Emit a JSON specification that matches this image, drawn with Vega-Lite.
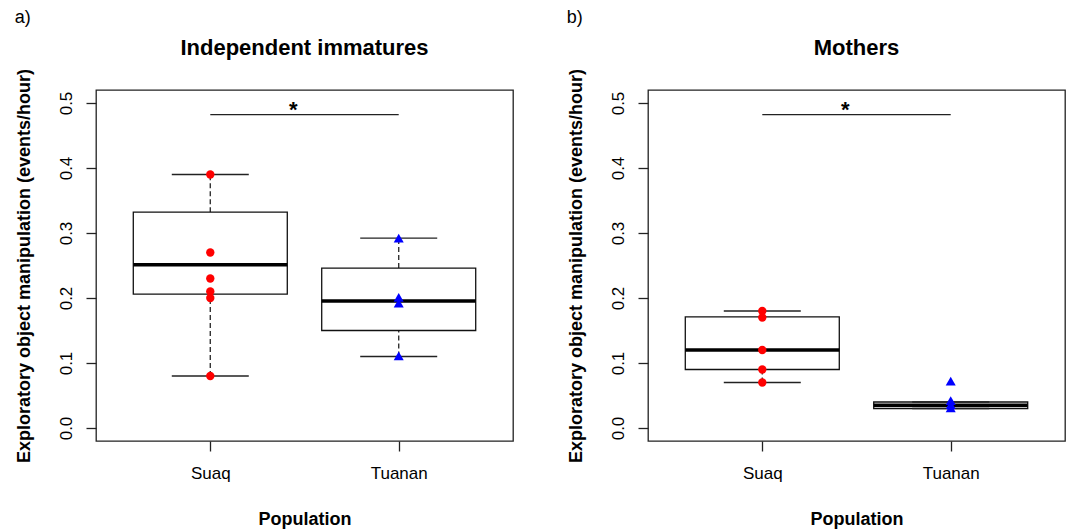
{
  "$schema": "https://vega.github.io/schema/vega-lite/v6.json",
  "background": "white",
  "padding": {"left": 14, "top": 8, "right": 0, "bottom": 0},
  "datasets": {
    "boxes": [
      {"panel": "a", "pop": "Suaq", "x": 1, "lo": 0.08, "q1": 0.206, "med": 0.251, "q3": 0.332, "hi": 0.39},
      {"panel": "a", "pop": "Tuanan", "x": 2, "lo": 0.11, "q1": 0.15, "med": 0.1955, "q3": 0.246, "hi": 0.292},
      {"panel": "b", "pop": "Suaq", "x": 1, "lo": 0.07, "q1": 0.09, "med": 0.12, "q3": 0.171, "hi": 0.18},
      {"panel": "b", "pop": "Tuanan", "x": 2, "lo": 0.03, "q1": 0.03, "med": 0.035, "q3": 0.04, "hi": 0.04}
    ],
    "pts": [
      {"panel": "a", "pop": "Suaq", "x": 1, "v": 0.39},
      {"panel": "a", "pop": "Suaq", "x": 1, "v": 0.27},
      {"panel": "a", "pop": "Suaq", "x": 1, "v": 0.23},
      {"panel": "a", "pop": "Suaq", "x": 1, "v": 0.21},
      {"panel": "a", "pop": "Suaq", "x": 1, "v": 0.20},
      {"panel": "a", "pop": "Suaq", "x": 1, "v": 0.08},
      {"panel": "a", "pop": "Tuanan", "x": 2, "v": 0.292},
      {"panel": "a", "pop": "Tuanan", "x": 2, "v": 0.201},
      {"panel": "a", "pop": "Tuanan", "x": 2, "v": 0.192},
      {"panel": "a", "pop": "Tuanan", "x": 2, "v": 0.111},
      {"panel": "b", "pop": "Suaq", "x": 1, "v": 0.18},
      {"panel": "b", "pop": "Suaq", "x": 1, "v": 0.17},
      {"panel": "b", "pop": "Suaq", "x": 1, "v": 0.12},
      {"panel": "b", "pop": "Suaq", "x": 1, "v": 0.09},
      {"panel": "b", "pop": "Suaq", "x": 1, "v": 0.07},
      {"panel": "b", "pop": "Tuanan", "x": 2, "v": 0.072},
      {"panel": "b", "pop": "Tuanan", "x": 2, "v": 0.042},
      {"panel": "b", "pop": "Tuanan", "x": 2, "v": 0.036},
      {"panel": "b", "pop": "Tuanan", "x": 2, "v": 0.031}
    ],
    "sig": [
      {"panel": "a", "x": 1, "x2": 2, "y": 0.482, "xs": 1.44, "ys": 0.49, "star": "*"},
      {"panel": "b", "x": 1, "x2": 2, "y": 0.482, "xs": 1.44, "ys": 0.49, "star": "*"}
    ]
  },
  "spacing": 52,
  "hconcat": [
    {
      "title": {"text": "a)", "anchor": "start", "fontSize": 18, "fontWeight": "normal", "offset": 10},
      "vconcat": [
        {
          "title": {"text": "Independent immatures", "fontSize": 22, "fontWeight": "bold", "anchor": "middle", "frame": "group", "offset": 8},
          "width": 417,
          "height": 351,
          "encoding": {
            "x": {"field": "x", "type": "quantitative", "title": "Population",
              "scale": {"domain": [0.42, 2.58], "nice": false, "zero": false},
              "axis": {"values": [1, 2], "labelExpr": "datum.value == 1 ? 'Suaq' : 'Tuanan'", "labelPadding": 14, "titlePadding": 29, "labelFlush": false}}
          },
          "layer": [
            {"data": {"name": "boxes"}, "transform": [{"filter": "datum.panel == 'a'"}],
              "mark": {"type": "rule", "strokeDash": [5, 3], "color": "#333", "strokeWidth": 1.4},
              "encoding": {
                "y": {"field": "q3", "type": "quantitative", "title": "Exploratory object manipulation (events/hour)",
                  "scale": {"domain": [-0.02, 0.52], "nice": false, "zero": false},
                  "axis": {"values": [0, 0.1, 0.2, 0.3, 0.4, 0.5], "format": ".1f", "labelAngle": -90, "labelAlign": "center", "labelBaseline": "alphabetic", "labelPadding": 15, "titlePadding": 23.5}},
                "y2": {"field": "hi"}}},
            {"data": {"name": "boxes"}, "transform": [{"filter": "datum.panel == 'a'"}],
              "mark": {"type": "rule", "strokeDash": [5, 3], "color": "#333", "strokeWidth": 1.4},
              "encoding": {"y": {"field": "lo", "type": "quantitative", "title": "Exploratory object manipulation (events/hour)"}, "y2": {"field": "q1"}}},
            {"data": {"name": "boxes"}, "transform": [{"filter": "datum.panel == 'a'"}],
              "mark": {"type": "bar", "size": 154, "fill": "white", "stroke": "#111", "strokeWidth": 1.3},
              "encoding": {"y": {"field": "q1", "type": "quantitative", "title": "Exploratory object manipulation (events/hour)"}, "y2": {"field": "q3"}}},
            {"data": {"name": "boxes"}, "transform": [{"filter": "datum.panel == 'a'"}],
              "mark": {"type": "tick", "orient": "horizontal", "size": 154, "thickness": 3.5, "color": "black", "opacity": 1},
              "encoding": {"y": {"field": "med", "type": "quantitative", "title": "Exploratory object manipulation (events/hour)"}}},
            {"data": {"name": "boxes"}, "transform": [{"filter": "datum.panel == 'a'"}],
              "mark": {"type": "tick", "orient": "horizontal", "size": 77, "thickness": 1.3, "color": "#222", "opacity": 1},
              "encoding": {"y": {"field": "hi", "type": "quantitative", "title": "Exploratory object manipulation (events/hour)"}}},
            {"data": {"name": "boxes"}, "transform": [{"filter": "datum.panel == 'a'"}],
              "mark": {"type": "tick", "orient": "horizontal", "size": 77, "thickness": 1.3, "color": "#222", "opacity": 1},
              "encoding": {"y": {"field": "lo", "type": "quantitative", "title": "Exploratory object manipulation (events/hour)"}}},
            {"data": {"name": "pts"}, "transform": [{"filter": "datum.panel == 'a'"}],
              "mark": {"type": "point", "filled": true, "opacity": 1},
              "encoding": {
                "y": {"field": "v", "type": "quantitative", "title": "Exploratory object manipulation (events/hour)"},
                "shape": {"field": "pop", "type": "nominal", "scale": {"domain": ["Suaq", "Tuanan"], "range": ["circle", "triangle-up"]}, "legend": null},
                "size": {"field": "pop", "type": "nominal", "scale": {"domain": ["Suaq", "Tuanan"], "range": [70, 100]}, "legend": null},
                "color": {"field": "pop", "type": "nominal", "scale": {"domain": ["Suaq", "Tuanan"], "range": ["#ff0000", "#0000ff"]}, "legend": null}}},
            {"data": {"name": "sig"}, "transform": [{"filter": "datum.panel == 'a'"}],
              "mark": {"type": "rule", "color": "#222", "strokeWidth": 1.3},
              "encoding": {"x2": {"field": "x2"}, "y": {"field": "y", "type": "quantitative", "title": "Exploratory object manipulation (events/hour)"}}},
            {"data": {"name": "sig"}, "transform": [{"filter": "datum.panel == 'a'"}],
              "mark": {"type": "text", "fontSize": 22, "fontWeight": "bold", "baseline": "middle", "align": "center", "color": "black"},
              "encoding": {"x": {"field": "xs", "type": "quantitative", "title": "Population"}, "y": {"field": "ys", "type": "quantitative", "title": "Exploratory object manipulation (events/hour)"}, "text": {"field": "star"}}}
          ]
        }
      ]
    },
    {
      "title": {"text": "b)", "anchor": "start", "fontSize": 18, "fontWeight": "normal", "offset": 10},
      "vconcat": [
        {
          "title": {"text": "Mothers", "fontSize": 22, "fontWeight": "bold", "anchor": "middle", "frame": "group", "offset": 8},
          "width": 417,
          "height": 351,
          "encoding": {
            "x": {"field": "x", "type": "quantitative", "title": "Population",
              "scale": {"domain": [0.42, 2.58], "nice": false, "zero": false},
              "axis": {"values": [1, 2], "labelExpr": "datum.value == 1 ? 'Suaq' : 'Tuanan'", "labelPadding": 14, "titlePadding": 29, "labelFlush": false}}
          },
          "layer": [
            {"data": {"name": "boxes"}, "transform": [{"filter": "datum.panel == 'b'"}],
              "mark": {"type": "rule", "strokeDash": [5, 3], "color": "#333", "strokeWidth": 1.4},
              "encoding": {
                "y": {"field": "q3", "type": "quantitative", "title": "Exploratory object manipulation (events/hour)",
                  "scale": {"domain": [-0.02, 0.52], "nice": false, "zero": false},
                  "axis": {"values": [0, 0.1, 0.2, 0.3, 0.4, 0.5], "format": ".1f", "labelAngle": -90, "labelAlign": "center", "labelBaseline": "alphabetic", "labelPadding": 15, "titlePadding": 23.5}},
                "y2": {"field": "hi"}}},
            {"data": {"name": "boxes"}, "transform": [{"filter": "datum.panel == 'b'"}],
              "mark": {"type": "rule", "strokeDash": [5, 3], "color": "#333", "strokeWidth": 1.4},
              "encoding": {"y": {"field": "lo", "type": "quantitative", "title": "Exploratory object manipulation (events/hour)"}, "y2": {"field": "q1"}}},
            {"data": {"name": "boxes"}, "transform": [{"filter": "datum.panel == 'b'"}],
              "mark": {"type": "bar", "size": 154, "fill": "white", "stroke": "#111", "strokeWidth": 1.3},
              "encoding": {"y": {"field": "q1", "type": "quantitative", "title": "Exploratory object manipulation (events/hour)"}, "y2": {"field": "q3"}}},
            {"data": {"name": "boxes"}, "transform": [{"filter": "datum.panel == 'b'"}],
              "mark": {"type": "tick", "orient": "horizontal", "size": 154, "thickness": 3.5, "color": "black", "opacity": 1},
              "encoding": {"y": {"field": "med", "type": "quantitative", "title": "Exploratory object manipulation (events/hour)"}}},
            {"data": {"name": "boxes"}, "transform": [{"filter": "datum.panel == 'b'"}],
              "mark": {"type": "tick", "orient": "horizontal", "size": 77, "thickness": 1.3, "color": "#222", "opacity": 1},
              "encoding": {"y": {"field": "hi", "type": "quantitative", "title": "Exploratory object manipulation (events/hour)"}}},
            {"data": {"name": "boxes"}, "transform": [{"filter": "datum.panel == 'b'"}],
              "mark": {"type": "tick", "orient": "horizontal", "size": 77, "thickness": 1.3, "color": "#222", "opacity": 1},
              "encoding": {"y": {"field": "lo", "type": "quantitative", "title": "Exploratory object manipulation (events/hour)"}}},
            {"data": {"name": "pts"}, "transform": [{"filter": "datum.panel == 'b'"}],
              "mark": {"type": "point", "filled": true, "opacity": 1},
              "encoding": {
                "y": {"field": "v", "type": "quantitative", "title": "Exploratory object manipulation (events/hour)"},
                "shape": {"field": "pop", "type": "nominal", "scale": {"domain": ["Suaq", "Tuanan"], "range": ["circle", "triangle-up"]}, "legend": null},
                "size": {"field": "pop", "type": "nominal", "scale": {"domain": ["Suaq", "Tuanan"], "range": [70, 100]}, "legend": null},
                "color": {"field": "pop", "type": "nominal", "scale": {"domain": ["Suaq", "Tuanan"], "range": ["#ff0000", "#0000ff"]}, "legend": null}}},
            {"data": {"name": "sig"}, "transform": [{"filter": "datum.panel == 'b'"}],
              "mark": {"type": "rule", "color": "#222", "strokeWidth": 1.3},
              "encoding": {"x2": {"field": "x2"}, "y": {"field": "y", "type": "quantitative", "title": "Exploratory object manipulation (events/hour)"}}},
            {"data": {"name": "sig"}, "transform": [{"filter": "datum.panel == 'b'"}],
              "mark": {"type": "text", "fontSize": 22, "fontWeight": "bold", "baseline": "middle", "align": "center", "color": "black"},
              "encoding": {"x": {"field": "xs", "type": "quantitative", "title": "Population"}, "y": {"field": "ys", "type": "quantitative", "title": "Exploratory object manipulation (events/hour)"}, "text": {"field": "star"}}}
          ]
        }
      ]
    }
  ],
  "config": {
    "font": "Liberation Sans",
    "view": {"stroke": "#222", "strokeWidth": 1.3},
    "axis": {"domain": false, "grid": false, "tickSize": 10, "tickColor": "#222", "tickWidth": 1.3, "labelColor": "black", "titleColor": "black", "labelFontSize": 17, "titleFontSize": 18, "titleFontWeight": "bold", "labelFont": "Liberation Sans", "titleFont": "Liberation Sans"},
    "title": {"font": "Liberation Sans", "color": "black"}
  }
}
